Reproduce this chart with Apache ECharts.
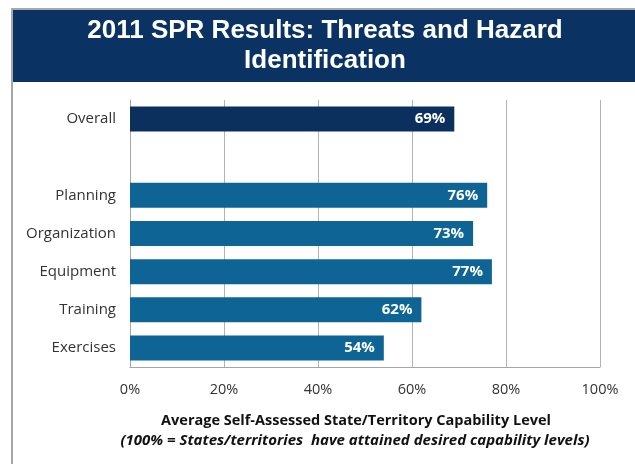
<!DOCTYPE html>
<html>
<head>
<meta charset="utf-8">
<script src="https://cdn.jsdelivr.net/npm/echarts@6/dist/echarts.min.js"></script>
<style>
  html, body { margin: 0; padding: 0; background: #fff; }
  #chart { width: 635px; height: 464px; }
</style>
</head>
<body>
<div id="chart"></div>
<script>
// Capability areas, top to bottom (blank row separates the overall score)
const categories = ['Overall', '', 'Planning', 'Organization', 'Equipment', 'Training', 'Exercises'];
// Average capability level, percent
const values = [69, null, 76, 73, 77, 62, 54];
// Overall row drawn darker than the individual areas
const highlight = [true, false, false, false, false, false, false];
const xTicks = [0, 20, 40, 60, 80, 100];

const titleLines = ['2011 SPR Results: Threats and Hazard', 'Identification'];
const axisTitle = 'Average Self-Assessed State/Territory Capability Level';
const axisNote = '(100% = States/territories  have attained desired capability levels)';

const chart = echarts.init(document.getElementById('chart'), null, { renderer: 'canvas' });

const font = '"Open Sans", "Noto Sans", sans-serif';

chart.setOption({
  animation: false,
  backgroundColor: '#ffffff',
  grid: { left: 130, right: 35, top: 100, bottom: 97, containLabel: false },
  xAxis: {
    type: 'value',
    min: xTicks[0],
    max: xTicks[xTicks.length - 1],
    interval: 20,
    axisLine: { show: true, lineStyle: { color: '#a6a6a6', width: 1 } },
    axisTick: { show: false },
    splitLine: { show: true, lineStyle: { color: '#b3b3b3', width: 1 } },
    axisLabel: {
      formatter: v => v + '%',
      color: '#333333',
      fontSize: 14.5,
      fontFamily: font,
      margin: 15
    }
  },
  yAxis: {
    type: 'category',
    data: categories,
    inverse: true,
    axisLine: { show: true, lineStyle: { color: '#a6a6a6', width: 1 } },
    axisTick: { show: false },
    axisLabel: { color: '#333333', fontSize: 15, fontFamily: font, margin: 14 }
  },
  series: [{
    type: 'bar',
    barWidth: 25,
    data: values.map((v, i) => ({
      value: v,
      itemStyle: { color: highlight[i] ? '#0b305d' : '#0f6496' }
    })),
    label: {
      show: true,
      position: 'insideRight',
      distance: 9,
      formatter: p => p.value + '%',
      color: '#ffffff',
      fontWeight: 'bold',
      fontSize: 15,
      fontFamily: font
    }
  }],
  graphic: [
    // frame lines
    { type: 'line', shape: { x1: 11, y1: 9, x2: 635, y2: 9 }, style: { stroke: '#a8a8a8', lineWidth: 2 } },
    { type: 'line', shape: { x1: 12, y1: 8, x2: 12, y2: 464 }, style: { stroke: '#a8a8a8', lineWidth: 2 } },
    // title banner
    { type: 'rect', shape: { x: 13, y: 10, width: 622, height: 72 }, style: { fill: '#0a3263' } },
    {
      type: 'text', x: 325, y: 16,
      style: {
        text: titleLines.join('\n'),
        fill: '#ffffff',
        font: 'bold 26px "Liberation Sans", Arial, sans-serif',
        lineHeight: 30,
        align: 'center',
        verticalAlign: 'top'
      }
    },
    // axis title and note
    {
      type: 'text', x: 356, y: 421,
      style: {
        text: axisTitle,
        fill: '#111111',
        font: 'bold 14.5px "Open Sans", sans-serif',
        align: 'center',
        verticalAlign: 'middle'
      }
    },
    {
      type: 'text', x: 355, y: 441,
      style: {
        text: axisNote,
        fill: '#111111',
        font: 'italic bold 15px "Open Sans", sans-serif',
        align: 'center',
        verticalAlign: 'middle'
      }
    }
  ]
});
</script>
</body>
</html>
